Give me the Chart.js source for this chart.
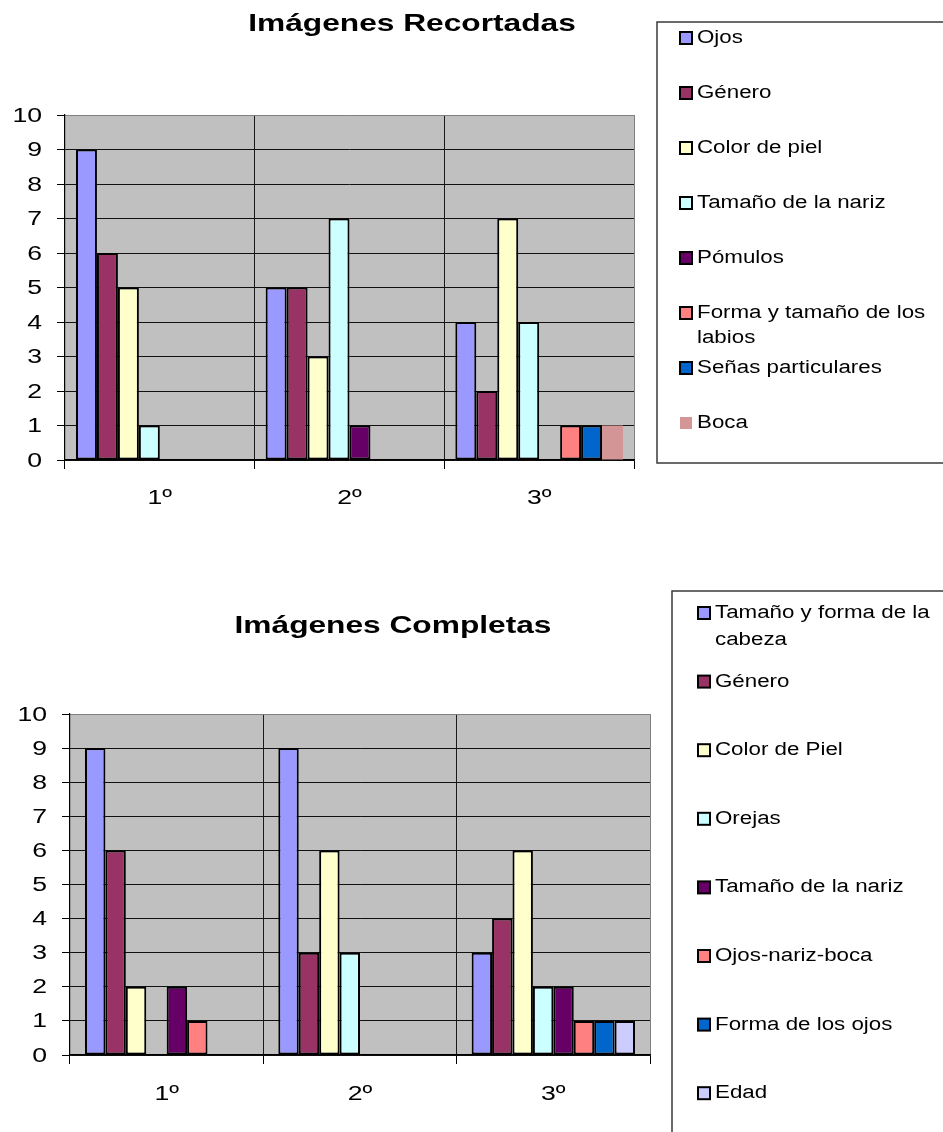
<!DOCTYPE html>
<html>
<head>
<meta charset="utf-8">
<script src="https://cdn.jsdelivr.net/npm/chart.js@4/dist/chart.umd.min.js"></script>
<style>
  html, body { margin: 0; padding: 0; background: #ffffff; }
  #wrap { position: relative; width: 943px; height: 1132px; overflow: hidden; }
  #wrap canvas { position: absolute; left: 0; top: 0; }
</style>
</head>
<body>
<div id="wrap">
  <canvas id="recortadas" width="943" height="1132"></canvas>
  <canvas id="completas" width="943" height="1132"></canvas>
</div>
<script>
// Categories shared by both charts
const grados = ['1º', '2º', '3º'];

// --- Imágenes Recortadas ---
const tituloRecortadas = 'Imágenes Recortadas';
const seriesRecortadas = ['Ojos', 'Género', 'Color de piel', 'Tamaño de la nariz', 'Pómulos',
  'Forma y tamaño de los labios', 'Señas particulares', 'Boca'];
const ojos        = [9, 5, 4];
const genero      = [6, 5, 2];
const colorPiel   = [5, 3, 7];
const tamNariz    = [1, 7, 4];
const pomulos     = [null, 1, null];
const formaLabios = [null, null, 1];
const senas       = [null, null, 1];
const boca        = [null, null, 1];

// --- Imágenes Completas ---
const tituloCompletas = 'Imágenes Completas';
const seriesCompletas = ['Tamaño y forma de la cabeza', 'Género', 'Color de Piel', 'Orejas',
  'Tamaño de la nariz', 'Ojos-nariz-boca', 'Forma de los ojos', 'Edad'];
const cabeza        = [9, 9, 3];
const generoC       = [6, 3, 4];
const colorPielC    = [2, 6, 6];
const orejas        = [null, 3, 2];
const narizC        = [2, null, 2];
const ojosNarizBoca = [1, null, 1];
const formaOjos     = [null, null, 1];
const edad          = [null, null, 1];

// Value axis range
const yMin = 0, yMax = 10, yStep = 1;

const FONT = '"Liberation Sans", Arial, sans-serif';

function stretchText(ctx, text, x, y, align, font, sx) {
  ctx.save();
  ctx.font = font;
  ctx.fillStyle = '#000';
  ctx.textAlign = align;
  ctx.textBaseline = 'middle';
  ctx.translate(x, y);
  ctx.scale(sx, 1);
  ctx.fillText(text, 0, 0);
  ctx.restore();
}

function wrapWords(ctx, text, font, sx, maxWidth) {
  ctx.save();
  ctx.font = font;
  const words = text.split(' ');
  const lines = [];
  let line = '';
  for (const w of words) {
    const test = line ? line + ' ' + w : w;
    if (line && ctx.measureText(test).width * sx > maxWidth) {
      lines.push(line);
      line = w;
    } else {
      line = test;
    }
  }
  if (line) lines.push(line);
  ctx.restore();
  return lines;
}

// Grey plot area, stretched tick labels, title and boxed legend
const excelLook = {
  id: 'excelLook',
  beforeDraw(chart, args, o) {
    const { ctx, chartArea: a } = chart;
    ctx.save();
    ctx.fillStyle = o.plotFill;
    ctx.fillRect(a.left, a.top, a.right - a.left, a.bottom - a.top);
    ctx.restore();
  },
  afterDraw(chart, args, o) {
    const { ctx, chartArea: a } = chart;
    const yScale = chart.scales.y, xScale = chart.scales.x;

    // value axis labels
    const tickFont = '20px ' + FONT;
    yScale.ticks.forEach(t => {
      stretchText(ctx, String(t.label), a.left - o.yLabelGap, yScale.getPixelForValue(t.value) + 1,
        'right', tickFont, o.tickStretch);
    });
    // category labels
    xScale.getLabels().forEach((lab, i) => {
      stretchText(ctx, lab, xScale.getPixelForValue(i), a.bottom + o.xLabelGap,
        'center', tickFont, o.tickStretch);
    });

    // title
    stretchText(ctx, o.title, o.titleX, o.titleY, 'center', 'bold 24px ' + FONT, o.titleStretch);

    // legend frame (runs off the right edge of the page)
    ctx.save();
    ctx.strokeStyle = '#3a3a3a';
    ctx.lineWidth = 1.5;
    ctx.strokeRect(o.legend.left, o.legend.top, 400, o.legend.bottom - o.legend.top);
    ctx.restore();

    // legend entries
    const legFont = '18px ' + FONT;
    chart.data.datasets.forEach((ds, i) => {
      const cy = o.legend.firstY + i * o.legend.step;
      const bx = o.legend.boxX, bs = 12;
      ctx.save();
      ctx.fillStyle = ds.backgroundColor;
      ctx.fillRect(bx, cy - bs / 2, bs, bs);
      if (ds.borderWidth > 0) {
        ctx.strokeStyle = '#000';
        ctx.lineWidth = 2;
        ctx.strokeRect(bx, cy - bs / 2, bs, bs);
      }
      ctx.restore();
      const tx = bx + 17;
      const lines = wrapWords(ctx, ds.label, legFont, o.legendStretch, chart.width - tx - 4);
      lines.forEach((ln, k) => {
        stretchText(ctx, ln, tx, cy + k * o.legend.lineHeight, 'left', legFont, o.legendStretch);
      });
    });
  }
};

function makeDatasets(names, values, colors) {
  return names.map((n, i) => ({
    label: n,
    data: values[i],
    backgroundColor: colors[i],
    borderColor: '#000000',
    borderWidth: colors[i] === '#D39595' ? 0 : 2,
    borderSkipped: false
  }));
}

function makeChart(id, datasets, area, catPct, look) {
  const H = 1132, W = 943, xAxisH = 20;
  return new Chart(document.getElementById(id), {
    type: 'bar',
    data: { labels: grados, datasets },
    plugins: [excelLook],
    options: {
      responsive: false,
      animation: false,
      devicePixelRatio: 1,
      layout: {
        padding: { left: 0, top: area.top, right: W - area.right, bottom: H - area.bottom - xAxisH }
      },
      datasets: { bar: { categoryPercentage: catPct, barPercentage: 1 } },
      plugins: {
        legend: { display: false },
        title: { display: false },
        tooltip: { enabled: false },
        excelLook: look
      },
      scales: {
        x: {
          type: 'category',
          offset: true,
          grid: {
            offset: true,
            color: c => c.type === 'tick' ? '#1a1a1a' : '#808080',
            lineWidth: 1,
            tickColor: '#000',
            tickLength: 9
          },
          border: { color: '#000', width: 1.2 },
          ticks: { display: false },
          afterFit: s => { s.height = xAxisH; }
        },
        y: {
          min: yMin, max: yMax,
          grid: {
            color: c => (c.tick && c.tick.value === yMax) ? '#808080' : '#111',
            lineWidth: 1,
            tickColor: '#000',
            tickLength: 8
          },
          border: { color: '#000', width: 1.2 },
          ticks: { display: false, stepSize: yStep },
          afterFit: s => { s.width = area.left; }
        }
      }
    }
  });
}

const paleta = ['#9999FF', '#993366', '#FFFFCC', '#CCFFFF', '#660066', '#FF8080', '#0066CC'];

makeChart('recortadas',
  makeDatasets(seriesRecortadas,
    [ojos, genero, colorPiel, tamNariz, pomulos, formaLabios, senas, boca],
    [...paleta, '#D39595']),
  { left: 65, right: 634, top: 115, bottom: 460 }, 0.884,
  {
    plotFill: '#C0C0C0',
    title: tituloRecortadas, titleX: 412, titleY: 24, titleStretch: 1.32,
    tickStretch: 1.33, legendStretch: 1.24,
    yLabelGap: 23, xLabelGap: 38,
    legend: { left: 657, top: 22, bottom: 463, boxX: 680, firstY: 38, step: 55, lineHeight: 25 }
  });

makeChart('completas',
  makeDatasets(seriesCompletas,
    [cabeza, generoC, colorPielC, orejas, narizC, ojosNarizBoca, formaOjos, edad],
    [...paleta, '#CCCCFF']),
  { left: 70, right: 650, top: 714, bottom: 1055 }, 0.845,
  {
    plotFill: '#C0C0C0',
    title: tituloCompletas, titleX: 393, titleY: 626, titleStretch: 1.32,
    tickStretch: 1.33, legendStretch: 1.24,
    yLabelGap: 23, xLabelGap: 39,
    legend: { left: 672, top: 591, bottom: 1200, boxX: 698, firstY: 613, step: 68.6, lineHeight: 27 }
  });
</script>
</body>
</html>
